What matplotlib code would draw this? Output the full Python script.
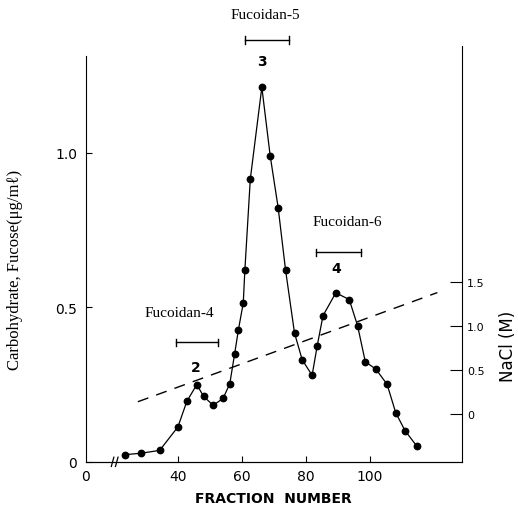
import matplotlib.pyplot as plt

# fraction number vs carbohydrate (fucose) content
fraction = [23.4, 28.6, 34.3, 40.0, 42.8, 45.9, 48.0, 51.0, 54.1, 56.2, 57.7,
            58.9, 60.4, 60.9, 62.6, 66.2, 68.8, 71.3, 73.6, 76.4, 78.8, 81.9,
            83.5, 85.3, 89.3, 93.5, 96.1, 98.5, 101.8, 105.3, 108.0, 110.9, 114.5]
fucose = [0.023, 0.028, 0.037, 0.113, 0.196, 0.250, 0.212, 0.183, 0.205, 0.253,
          0.349, 0.428, 0.514, 0.620, 0.915, 1.212, 0.991, 0.822, 0.621, 0.417,
          0.330, 0.280, 0.376, 0.473, 0.547, 0.525, 0.440, 0.324, 0.300, 0.251,
          0.159, 0.101, 0.052]

# NaCl gradient (dashed line)
nacl_fraction = [27.5, 121.0]
nacl_conc = [0.14, 1.38]

# pooled fractions: (label, peak number, start, end, bar height, label pos, number pos)
pools = [
    ("Fucoidan-4", "2", 39.5, 52.5, 0.387, (40.5, 0.484), (45.5, 0.306)),
    ("Fucoidan-5", "3", 60.8, 74.6, 1.365, (67.3, 1.449), (66.2, 1.298)),
    ("Fucoidan-6", "4", 83.1, 97.1, 0.678, (92.8, 0.777), (89.3, 0.626)),
]

x_ticks = [11.2, 40, 60, 80, 100]
x_ticklabels = ["0", "40", "60", "80", "100"]
y_ticks = [0, 0.5, 1.0]
y_ticklabels = ["0", "0.5", "1.0"]
nacl_ticks = [0, 0.5, 1.0, 1.5]
nacl_ticklabels = ["0", "0.5", "1.0", "1.5"]

fig = plt.figure(figsize=(5.18, 5.10), dpi=100)
ax = fig.add_axes([0.1654, 0.0925, 0.7259, 0.815])

ax.plot(fraction, fucose, color="black", lw=0.9, marker="o", ms=4.6,
        markerfacecolor="black", markeredgecolor="black")

ax.set_xlim(11.2, 128.6)
ax.set_ylim(0, 1.345)
ax.spines["top"].set_visible(False)
ax.spines["right"].set_visible(False)
ax.spines["left"].set_bounds(0, 1.313)
ax.set_xticks(x_ticks)
ax.set_xticklabels(x_ticklabels)
ax.set_yticks(y_ticks)
ax.set_yticklabels(y_ticklabels)
ax.tick_params(direction="in", length=4, labelsize=10, pad=6)
ax.tick_params(axis="x", pad=5)
ax.xaxis.get_major_ticks()[0].tick1line.set_visible(False)

ax.set_xlabel("FRACTION  NUMBER", fontsize=10, fontweight="bold", labelpad=6)
ax.set_ylabel("Carbohydrate, Fucose(\u03bcg/m\u2113)", fontsize=12,
              family="Liberation Serif")
ax.yaxis.set_label_coords(-0.168, 0.464)

# axis break marks
for xb in (19.6, 20.9):
    ax.plot([xb - 0.4, xb + 0.4], [-0.015, 0.015], color="black", lw=0.9,
            clip_on=False)

# pooled fraction brackets
for name, num, x0, x1, yb, name_pos, num_pos in pools:
    ax.plot([x0, x1], [yb, yb], color="black", lw=1.0, clip_on=False)
    ax.plot([x0, x0], [yb - 0.012, yb + 0.012], color="black", lw=1.0, clip_on=False)
    ax.plot([x1, x1], [yb - 0.012, yb + 0.012], color="black", lw=1.0, clip_on=False)
    ax.text(name_pos[0], name_pos[1], name, fontsize=11, family="Liberation Serif",
            ha="center", va="center")
    ax.text(num_pos[0], num_pos[1], num, fontsize=10, fontweight="bold",
            ha="center", va="center")

ax2 = ax.twinx()
ax2.plot(nacl_fraction, nacl_conc, color="black", lw=1.0, dashes=(8, 6))
ax2.set_ylim(-0.543, 4.18)
ax2.spines["top"].set_visible(False)
ax2.spines["left"].set_visible(False)
ax2.set_yticks(nacl_ticks)
ax2.set_yticklabels(nacl_ticklabels)
ax2.tick_params(direction="in", length=9, labelsize=8, pad=4)
ax2.set_ylabel("NaCl (M)", fontsize=12)
ax2.yaxis.set_label_coords(1.098, 0.279)

fig.savefig("out.png", dpi=100)
